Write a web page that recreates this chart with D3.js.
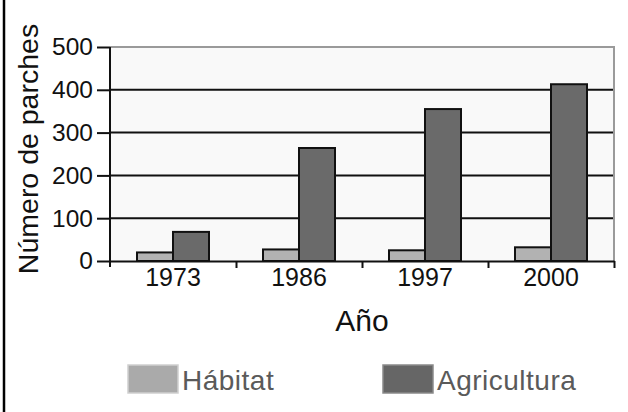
<!DOCTYPE html>
<html>
<head>
<meta charset="utf-8">
<script src="https://cdn.jsdelivr.net/npm/d3@7"></script>
<style>
  body { margin: 0; background: #fff; }
  #chart { width: 628px; height: 412px; }
  svg text { font-family: "Liberation Sans", Arial, sans-serif; }
</style>
</head>
<body>
<div id="chart"></div>
<script>
var years = ['1973', '1986', '1997', '2000'];
var seriesNames = ['Hábitat', 'Agricultura'];
var habitat = [20, 27, 25, 32];
var agricultura = [68, 264, 355, 413];
var yTicks = [0, 100, 200, 300, 400, 500];

(function() {
  var width = 628, height = 412;
  var left = 110, right = 614, top = 47, bottom = 261;
  var colors = ['#b2b2b2', '#6a6a6a'];
  var legendColors = [{fill: '#aaaaaa', stroke: '#cfcfcf'}, {fill: '#666666', stroke: '#8a8a8a'}];

  var dataset = years.map(function(y, i) {
    return {year: y, values: [habitat[i], agricultura[i]]};
  });

  var svg = d3.select('#chart').append('svg')
    .attr('width', width)
    .attr('height', height);

  // outer frame line on the left
  svg.append('line')
    .attr('x1', 4).attr('x2', 4)
    .attr('y1', 0).attr('y2', height)
    .attr('stroke', '#000').attr('stroke-width', 2.5);

  var xScale = d3.scaleBand()
    .domain(years)
    .range([left, right])
    .paddingInner(54 / 126)
    .paddingOuter(27 / 126);

  var xInner = d3.scaleBand()
    .domain(seriesNames)
    .range([0, xScale.bandwidth()]);

  var yScale = d3.scaleLinear()
    .domain([0, 500])
    .range([bottom, top]);

  // plot background
  svg.append('rect')
    .attr('x', left).attr('y', top)
    .attr('width', right - left).attr('height', bottom - top)
    .attr('fill', '#f9f9f9')
    .attr('stroke', 'none');

  // grid lines
  svg.append('g')
    .selectAll('line')
    .data(yTicks.filter(function(d) { return d > 0 && d < 500; }))
    .enter().append('line')
    .attr('x1', left).attr('x2', right)
    .attr('y1', function(d) { return yScale(d); })
    .attr('y2', function(d) { return yScale(d); })
    .attr('stroke', '#111').attr('stroke-width', 2);

  // top and right frame
  svg.append('path')
    .attr('d', 'M' + left + ',' + yScale(500) + 'H' + right + 'V' + yScale(0))
    .attr('fill', 'none')
    .attr('stroke', '#9a9a9a').attr('stroke-width', 2);

  // bars
  var groups = svg.append('g').selectAll('g')
    .data(dataset)
    .enter().append('g')
    .attr('transform', function(d) { return 'translate(' + xScale(d.year) + ',0)'; });

  groups.selectAll('rect')
    .data(function(d) { return d.values.map(function(v, i) { return {name: seriesNames[i], value: v, i: i}; }); })
    .enter().append('rect')
    .attr('x', function(d) { return xInner(d.name); })
    .attr('y', function(d) { return yScale(d.value); })
    .attr('width', xInner.bandwidth())
    .attr('height', function(d) { return yScale(0) - yScale(d.value); })
    .attr('fill', function(d) { return colors[d.i]; })
    .attr('stroke', '#111')
    .attr('stroke-width', 2);

  // y axis
  var yAxis = d3.axisLeft(yScale)
    .tickValues(yTicks)
    .tickSize(13)
    .tickPadding(4)
    .tickFormat(d3.format('d'));

  var gy = svg.append('g')
    .attr('transform', 'translate(' + left + ',0)')
    .call(yAxis);
  gy.select('.domain').attr('stroke', '#111').attr('stroke-width', 2)
    .attr('d', 'M0,' + top + 'V' + (bottom + 6));
  gy.selectAll('.tick line').attr('stroke', '#111').attr('stroke-width', 2);
  gy.selectAll('.tick text')
    .attr('fill', '#111')
    .style('font-size', '24.5px');

  // x axis: labels
  var xAxis = d3.axisBottom(xScale).tickSize(0).tickPadding(7);
  var gx = svg.append('g')
    .attr('transform', 'translate(0,' + bottom + ')')
    .call(xAxis);
  gx.select('.domain').remove();
  gx.selectAll('.tick text')
    .attr('fill', '#111')
    .style('font-size', '25px');

  // x axis: line and ticks between categories
  var sepScale = d3.scaleLinear().domain([0, years.length]).range([left, right]);
  var gs = svg.append('g')
    .attr('transform', 'translate(0,' + bottom + ')')
    .call(d3.axisBottom(sepScale).tickValues(d3.range(1, years.length + 1)).tickSize(7).tickSizeOuter(0).tickFormat(''));
  gs.select('.domain').attr('stroke', '#111').attr('stroke-width', 2);
  gs.selectAll('.tick line').attr('stroke', '#111').attr('stroke-width', 2);

  // axis titles
  svg.append('text')
    .attr('x', (left + right) / 2)
    .attr('y', 331)
    .attr('text-anchor', 'middle')
    .attr('fill', '#111')
    .style('font-size', '30px')
    .text('Año');

  svg.append('text')
    .attr('transform', 'translate(38,149) rotate(-90)')
    .attr('text-anchor', 'middle')
    .attr('fill', '#111')
    .style('font-size', '28.5px')
    .text('Número de parches');

  // legend
  var legendX = [128, 383];
  var legend = svg.append('g').selectAll('g')
    .data(seriesNames)
    .enter().append('g')
    .attr('transform', function(d, i) { return 'translate(' + legendX[i] + ',365)'; });

  legend.append('rect')
    .attr('width', 50).attr('height', 28)
    .attr('fill', function(d, i) { return legendColors[i].fill; })
    .attr('stroke', function(d, i) { return legendColors[i].stroke; })
    .attr('stroke-width', 1.5);

  legend.append('text')
    .attr('x', 54)
    .attr('y', 25)
    .attr('fill', '#5a5a5a')
    .style('font-size', '28px')
    .style('letter-spacing', '0.5px')
    .text(function(d) { return d; });
})();
</script>
</body>
</html>
